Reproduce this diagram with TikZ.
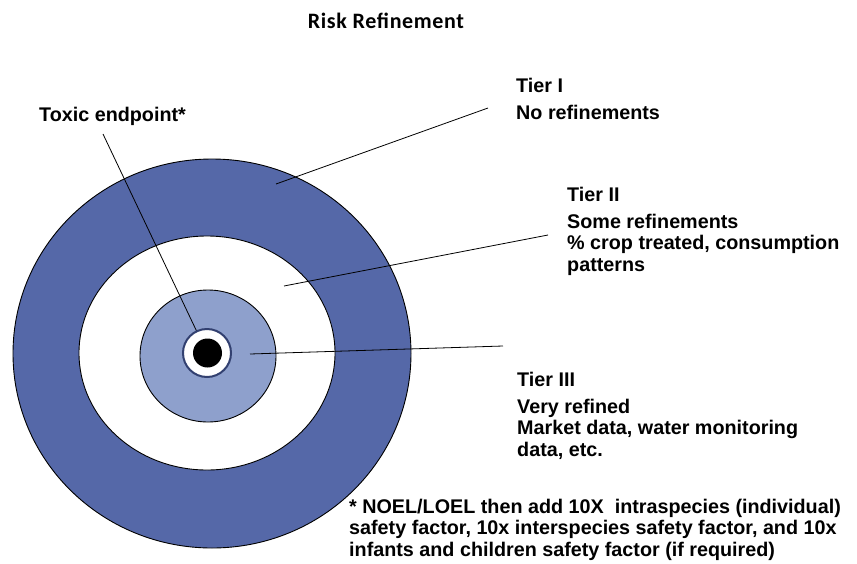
\documentclass[tikz,border=0pt]{standalone}
\usepackage{fontspec}
\setmainfont{Liberation Sans}
\newfontfamily\titlefont[LetterSpace=3]{Carlito}
\usetikzlibrary{shapes.geometric}
\definecolor{ringblue}{RGB}{85,104,168}
\definecolor{midblue}{RGB}{142,160,204}
\definecolor{darkring}{RGB}{50,64,112}
\begin{document}
\begin{tikzpicture}[x=1pt,y=-1pt,
  ring/.style={ellipse,draw=black,line width=0.9pt,inner sep=0pt},
  lbl/.style={anchor=base west,align=left,inner sep=0pt,font=\fontsize{19.75}{21.5}\selectfont\bfseries},
  leader/.style={draw=black,line width=0.8pt}]
\useasboundingbox (0,0) rectangle (857,563);
% title
\node[anchor=base,inner sep=0pt,font=\titlefont\fontsize{22}{24}\selectfont\bfseries] (title) at (386,28) {Risk Refinement};
% rings
\node[ring,fill=ringblue,minimum width=398,minimum height=389] (outer) at (212,353.5) {};
\node[ring,fill=white,minimum width=256,minimum height=234] (white) at (207,353) {};
\node[ring,fill=midblue,minimum width=136,minimum height=132] (mid) at (208,356) {};
% leader end points
\coordinate (c1) at (276,184);
\coordinate (c2) at (284,286);
\coordinate (c3) at (250,354);
\coordinate (c0) at (207,353);
% labels (anchor is the baseline of the last line)
\node[lbl] (tox) at (39,121) {Toxic endpoint*};
\node[lbl] (t1) at (516,119) {Tier I\\[5pt]No refinements};
\node[lbl] (t2) at (567,271) {Tier II\\[5pt]Some refinements\\\% crop treated, consumption\\patterns};
\node[lbl] (t3) at (517,456) {Tier III\\[5pt]Very refined\\Market data, water monitoring\\data, etc.};
\node[lbl] (note) at (349,556) {* NOEL/LOEL then add 10X\ \ intraspecies (individual)\\safety factor, 10x interspecies safety factor, and 10x\\infants and children safety factor (if required)};
% leaders
\coordinate (s0) at (103,134);
\coordinate (s1) at (488,108);
\coordinate (s2) at (548,235);
\coordinate (s3) at (503,346);
\draw[leader] (s1) -- (c1);
\draw[leader] (s2) -- (c2);
\draw[leader] (s3) -- (c3);
\draw[leader] (s0) -- (c0);
% centre
\node[circle,fill=white,draw=darkring,line width=2pt,minimum size=48,inner sep=0pt] (ring) at (207,353) {};
\node[circle,fill=black,minimum size=29,inner sep=0pt] (dot) at (207.5,353) {};
\end{tikzpicture}
\end{document}
